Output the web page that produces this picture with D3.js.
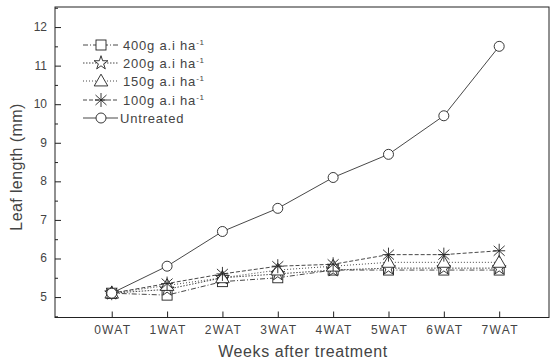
<!DOCTYPE html>
<html><head><meta charset="utf-8">
<script src="https://cdn.jsdelivr.net/npm/d3@7"></script>
<style>body{margin:0;background:#fff}svg{display:block;font-family:"Liberation Sans",Arial,sans-serif}</style>
</head><body><svg id="c" width="550" height="362"></svg>
<script>
const categories = ["0WAT","1WAT","2WAT","3WAT","4WAT","5WAT","6WAT","7WAT"];
const s400 = [5.1, 5.05, 5.4, 5.5, 5.7, 5.7, 5.7, 5.7];
const s200 = [5.1, 5.2, 5.5, 5.6, 5.7, 5.75, 5.75, 5.75];
const s150 = [5.1, 5.3, 5.5, 5.7, 5.8, 5.9, 5.9, 5.9];
const s100 = [5.1, 5.35, 5.6, 5.8, 5.85, 6.1, 6.1, 6.2];
const untreated = [5.1, 5.8, 6.7, 7.3, 8.1, 8.7, 9.7, 11.5];
const yTicks = [5, 6, 7, 8, 9, 10, 11, 12];
const seriesNames = ["400g a.i ha", "200g a.i ha", "150g a.i ha", "100g a.i ha", "Untreated"];

const svg = d3.select("#c");
const L = 55, R = 549, T = 7, B = 317.5;
const x = d3.scaleLinear().domain([-1.025, 7.9]).range([L, R]);
const y = d3.scaleLinear().domain([4.47, 12.52]).range([B, T]);

const ink = "#222";
const txt = "#444";
// frame
svg.append("rect").attr("x", L).attr("y", T).attr("width", R - L).attr("height", B - T)
  .attr("fill", "none").attr("stroke", ink).attr("stroke-width", 1);

// y axis (ticks inward)
const yAx = svg.append("g").attr("transform", `translate(${L},0)`)
  .call(d3.axisRight(y).tickValues(yTicks).tickSize(6).tickFormat(""));
yAx.select(".domain").remove();
yAx.selectAll("line").attr("stroke", ink);
const yMinor = svg.append("g").attr("transform", `translate(${L},0)`)
  .call(d3.axisRight(y).tickValues(d3.range(4.5, 12.6, 1)).tickSize(3).tickFormat(""));
yMinor.select(".domain").remove();
yMinor.selectAll("line").attr("stroke", ink);
svg.append("g").selectAll("text").data(yTicks).join("text")
  .attr("x", 47).attr("y", d => y(d) + 4).attr("text-anchor", "end")
  .attr("font-size", 12).attr("fill", txt).text(d => d);

// x axis (ticks inward)
const idx = d3.range(categories.length);
const xAx = svg.append("g").attr("transform", `translate(0,${B})`)
  .call(d3.axisTop(x).tickValues(idx).tickSize(6).tickFormat(""));
xAx.select(".domain").remove();
xAx.selectAll("line").attr("stroke", ink);
svg.append("g").selectAll("text").data(categories).join("text")
  .attr("x", (d, i) => x(i) + 1).attr("y", 334).attr("text-anchor", "middle")
  .attr("font-size", 12).attr("letter-spacing", 1.3).attr("fill", txt).text(d => d);

// axis titles
svg.append("text").attr("x", 303).attr("y", 357).attr("text-anchor", "middle")
  .attr("font-size", 16).attr("letter-spacing", 0.6).attr("fill", txt).text("Weeks after treatment");
svg.append("text").attr("transform", "translate(22,167) rotate(-90)").attr("text-anchor", "middle")
  .attr("font-size", 16).attr("letter-spacing", 0.4).attr("fill", txt).text("Leaf length (mm)");

// markers
const lineCol = "#333";
function marker(g, type) {
  if (type === "square") g.append("rect").attr("x", -5).attr("y", -5).attr("width", 10).attr("height", 10);
  else if (type === "star") g.append("path").attr("d", d3.symbol(d3.symbolStar, 60)());
  else if (type === "triangle") g.append("path").attr("d", d3.symbol(d3.symbolTriangle, 80)()).attr("transform", "translate(0,1)");
  else if (type === "asterisk") g.append("path").attr("d", "M0,-7V7M-5.5,-5L5.5,5M-5.5,5L5.5,-5M-6,0H6");
  else if (type === "circle") g.append("circle").attr("r", 5);
  g.selectAll("*").attr("fill", type === "asterisk" ? "none" : "#fff").attr("stroke", "#222").attr("stroke-width", 0.9);
}
const series = [
  {name: seriesNames[0], values: s400, type: "square", dash: "5,2,1,2"},
  {name: seriesNames[1], values: s200, type: "star", dash: "1.5,1.5"},
  {name: seriesNames[2], values: s150, type: "triangle", dash: "1,2"},
  {name: seriesNames[3], values: s100, type: "asterisk", dash: "4,2"},
  {name: seriesNames[4], values: untreated, type: "circle", dash: null}
];
const line = d3.line().x((d, i) => x(i)).y(d => y(d));
series.forEach(s => {
  svg.append("path").datum(s.values).attr("d", line).attr("fill", "none")
    .attr("stroke", lineCol).attr("stroke-width", 0.9).attr("stroke-dasharray", s.dash);
});
series.forEach(s => {
  s.values.forEach((v, i) => {
    const g = svg.append("g").attr("transform", `translate(${x(i)},${y(v)})`);
    marker(g, s.type);
  });
});

// legend
const legY = [45, 63, 81, 100, 118];
series.forEach((s, k) => {
  const yy = legY[k];
  svg.append("line").attr("x1", 83).attr("x2", 118).attr("y1", yy).attr("y2", yy)
    .attr("stroke", lineCol).attr("stroke-width", 0.9).attr("stroke-dasharray", s.dash);
  const g = svg.append("g").attr("transform", `translate(101,${yy})`);
  marker(g, s.type);
  const t = svg.append("text").attr("x", k < 4 ? 123 : 120).attr("y", yy + 4.5)
    .attr("font-size", 13).attr("letter-spacing", 0.8).attr("fill", txt).text(s.name);
  if (k < 4) t.append("tspan").attr("dy", -5).attr("font-size", 8).text("-1");
});
</script></body></html>
